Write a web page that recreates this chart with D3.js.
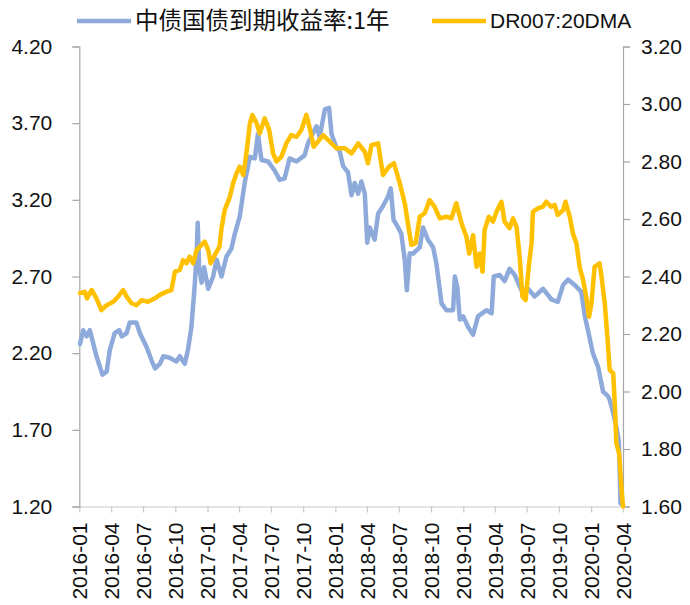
<!DOCTYPE html>
<html>
<head>
<meta charset="utf-8">
<script src="https://cdn.jsdelivr.net/npm/d3@7"></script>
<style>
  body { margin: 0; background: #fff; }
  svg { display: block; }
</style>
</head>
<body>
<div id="chart"></div>
<script>
var seriesNames = ["中债国债到期收益率:1年", "DR007:20DMA"];
var xTickLabels = ["2016-01", "2016-04", "2016-07", "2016-10", "2017-01", "2017-04", "2017-07", "2017-10",
  "2018-01", "2018-04", "2018-07", "2018-10", "2019-01", "2019-04", "2019-07", "2019-10", "2020-01", "2020-04"];
var leftTicks = [1.2, 1.7, 2.2, 2.7, 3.2, 3.7, 4.2];
var rightTicks = [1.6, 1.8, 2.0, 2.2, 2.4, 2.6, 2.8, 3.0, 3.2];

// 中债国债到期收益率:1年 (left axis)
var bondDates = ["2016-01-03","2016-01-12","2016-01-22","2016-01-31","2016-02-09","2016-02-19","2016-02-29","2016-03-07",
  "2016-03-19","2016-03-28","2016-04-11","2016-04-24","2016-05-01","2016-05-15","2016-05-24","2016-06-12","2016-06-22",
  "2016-07-11","2016-07-25","2016-08-04","2016-08-18","2016-08-28","2016-09-15","2016-10-04","2016-10-14","2016-10-28",
  "2016-11-06","2016-11-16","2016-11-25","2016-12-01","2016-12-04","2016-12-08","2016-12-15","2016-12-22","2017-01-03",
  "2017-01-17","2017-01-27","2017-02-10","2017-02-24","2017-03-10","2017-03-20","2017-04-03","2017-04-17","2017-05-02",
  "2017-05-16","2017-05-25","2017-06-04","2017-06-23","2017-07-12","2017-07-26","2017-08-09","2017-08-23","2017-09-12",
  "2017-10-05","2017-10-15","2017-11-08","2017-11-17","2017-12-02","2017-12-14","2017-12-21","2018-01-04","2018-01-13",
  "2018-01-23","2018-02-06","2018-02-16","2018-02-25","2018-03-07","2018-03-16","2018-03-26","2018-04-02","2018-04-09",
  "2018-04-23","2018-05-03","2018-05-17","2018-05-31","2018-06-08","2018-06-16","2018-06-29","2018-07-08","2018-07-18",
  "2018-07-24","2018-08-01","2018-08-11","2018-08-30","2018-09-08","2018-09-22","2018-10-07","2018-10-16","2018-10-31",
  "2018-11-14","2018-12-03","2018-12-08","2018-12-15","2018-12-22","2019-01-01","2019-01-15","2019-01-29","2019-02-12",
  "2019-03-08","2019-03-23","2019-03-29","2019-04-15","2019-04-29","2019-05-13","2019-05-28","2019-06-16","2019-07-05",
  "2019-07-24","2019-08-17","2019-09-10","2019-09-28","2019-10-13","2019-10-27","2019-11-15","2019-12-04","2019-12-14",
  "2019-12-23","2020-01-06","2020-01-21","2020-02-04","2020-02-18","2020-02-23","2020-03-04","2020-03-13","2020-03-20",
  "2020-03-25"];
var bondValues = [2.26,2.35,2.31,2.35,2.27,2.18,2.11,2.06,
  2.08,2.22,2.33,2.35,2.31,2.33,2.40,2.40,2.33,
  2.24,2.155,2.10,2.13,2.18,2.17,2.145,2.18,2.13,
  2.22,2.37,2.63,2.85,3.05,2.76,2.66,2.76,2.62,
  2.70,2.81,2.70,2.83,2.88,2.98,3.09,3.31,3.48,
  3.47,3.63,3.46,3.45,3.39,3.33,3.34,3.47,3.45,
  3.49,3.57,3.68,3.61,3.79,3.80,3.63,3.54,3.52,
  3.42,3.38,3.23,3.31,3.24,3.32,3.24,2.92,3.02,
  2.94,3.11,3.16,3.22,3.275,3.07,3.02,2.98,2.81,
  2.61,2.85,2.85,2.89,3.02,2.94,2.89,2.79,2.525,
  2.48,2.48,2.70,2.63,2.42,2.44,2.37,2.32,2.44,
  2.48,2.46,2.70,2.71,2.67,2.75,2.71,2.61,2.62,
  2.57,2.62,2.55,2.535,2.645,2.68,2.645,2.60,2.44,
  2.35,2.20,2.11,1.95,1.92,1.895,1.81,1.72,1.63,
  1.22];

// DR007:20DMA (right axis)
var drDates = ["2016-01-03","2016-01-17","2016-01-23","2016-02-05","2016-02-19","2016-03-04","2016-03-19","2016-04-07",
  "2016-04-21","2016-05-05","2016-05-15","2016-05-29","2016-06-12","2016-06-27","2016-07-15","2016-08-04","2016-08-18",
  "2016-09-06","2016-09-20","2016-09-30","2016-10-14","2016-10-23","2016-11-02","2016-11-11","2016-11-21","2016-12-01",
  "2016-12-15","2016-12-24","2017-01-03","2017-01-10","2017-01-22","2017-02-04","2017-02-10","2017-02-19","2017-03-06",
  "2017-03-15","2017-03-25","2017-04-03","2017-04-13","2017-04-22","2017-05-02","2017-05-09","2017-05-21","2017-05-30",
  "2017-06-13","2017-06-26","2017-07-07","2017-07-17","2017-07-31","2017-08-14","2017-08-28","2017-09-12","2017-09-26",
  "2017-10-10","2017-10-20","2017-10-31","2017-11-12","2017-11-27","2017-12-11","2018-01-04","2018-01-28","2018-02-16",
  "2018-03-07","2018-03-26","2018-04-04","2018-04-14","2018-05-03","2018-05-17","2018-06-03","2018-06-17","2018-07-04",
  "2018-07-18","2018-07-27","2018-08-06","2018-08-18","2018-08-30","2018-09-13","2018-09-27","2018-10-11","2018-10-26",
  "2018-11-14","2018-11-28","2018-12-12","2018-12-27","2019-01-10","2019-01-18","2019-01-29","2019-02-08","2019-02-17",
  "2019-02-25","2019-03-03","2019-03-15","2019-03-27","2019-04-06","2019-04-20","2019-04-29","2019-05-13","2019-05-23",
  "2019-06-02","2019-06-11","2019-06-19","2019-06-28","2019-07-08","2019-07-15","2019-07-19","2019-08-02","2019-08-16",
  "2019-08-26","2019-09-09","2019-09-19","2019-09-28","2019-10-13","2019-10-20","2019-11-01","2019-11-10","2019-11-20",
  "2019-11-29","2019-12-09","2019-12-18","2019-12-26","2020-01-02","2020-01-11","2020-01-25","2020-01-30","2020-02-09",
  "2020-02-17","2020-02-23","2020-03-04","2020-03-09","2020-03-13","2020-03-21","2020-03-28","2020-04-01"];
var drValues = [2.342,2.347,2.324,2.353,2.324,2.283,2.30,2.312,
  2.33,2.353,2.33,2.307,2.30,2.318,2.312,2.324,2.336,
  2.347,2.353,2.417,2.423,2.457,2.446,2.469,2.446,2.492,
  2.51,2.521,2.492,2.446,2.475,2.504,2.568,2.631,2.678,
  2.724,2.759,2.782,2.753,2.828,2.933,2.962,2.933,2.898,
  2.95,2.91,2.828,2.80,2.817,2.863,2.892,2.886,2.91,
  2.962,2.915,2.851,2.869,2.892,2.875,2.846,2.846,2.828,
  2.863,2.834,2.794,2.857,2.863,2.753,2.782,2.794,2.724,
  2.655,2.585,2.51,2.516,2.608,2.62,2.666,2.643,2.602,
  2.608,2.602,2.655,2.585,2.538,2.48,2.544,2.434,2.48,
  2.417,2.562,2.608,2.591,2.625,2.66,2.591,2.568,2.602,
  2.573,2.469,2.33,2.318,2.446,2.516,2.625,2.637,2.643,
  2.66,2.643,2.649,2.614,2.631,2.66,2.608,2.55,2.516,
  2.434,2.388,2.33,2.26,2.307,2.434,2.446,2.405,2.307,
  2.18,2.075,2.063,1.947,1.82,1.785,1.657,1.60];

var W = 690, H = 605;
var margin = {top: 46.5, right: 67, bottom: 98.5, left: 79.3};
var width = W - margin.left - margin.right;
var height = H - margin.top - margin.bottom;
var parseDay = d3.timeParse("%Y-%m-%d");
var parseMonth = d3.timeParse("%Y-%m");
var latinFont = "'Liberation Sans', Arial, sans-serif";
var cjkFont = "'Noto Sans CJK SC', 'Noto Sans', sans-serif";

var svg = d3.select("#chart").append("svg")
    .attr("width", W)
    .attr("height", H)
  .append("g")
    .attr("transform", "translate(" + margin.left + "," + margin.top + ")");

var x = d3.scaleTime()
    .domain([parseMonth(xTickLabels[0]), parseMonth(xTickLabels[xTickLabels.length - 1])])
    .range([0, width]);
var yLeft = d3.scaleLinear().domain([1.2, 4.2]).range([height, 0]);
var yRight = d3.scaleLinear().domain([1.6, 3.2]).range([height, 0]);

// axes
var gx = svg.append("g")
    .attr("transform", "translate(0," + height + ")")
    .call(d3.axisBottom(x)
        .tickValues(xTickLabels.map(parseMonth))
        .tickFormat(d3.timeFormat("%Y-%m"))
        .tickSize(6)
        .tickSizeOuter(0));
gx.selectAll("path, line").attr("stroke", "#c8c8c8").attr("stroke-width", 1.2);
gx.selectAll("text")
    .attr("transform", "rotate(-90)")
    .attr("x", -16)
    .attr("y", 0)
    .attr("dy", "0.35em")
    .style("text-anchor", "end")
    .style("font-family", latinFont)
    .style("font-size", "21px")
    .attr("fill", "#111");

var gl = svg.append("g")
    .call(d3.axisLeft(yLeft).tickValues(leftTicks).tickFormat(d3.format(".2f")).tickSize(7).tickPadding(20));
var gr = svg.append("g")
    .attr("transform", "translate(" + width + ",0)")
    .call(d3.axisRight(yRight).tickValues(rightTicks).tickFormat(d3.format(".2f")).tickSize(7).tickPadding(11));
[gl, gr].forEach(function(g) {
    g.selectAll("path, line").attr("stroke", "#a6a6a6").attr("stroke-width", 1.2);
    g.selectAll("text")
        .style("font-family", latinFont)
        .style("font-size", "21px")
        .attr("fill", "#111");
});

// lines
var bond = bondDates.map(function(d, i) { return {date: parseDay(d), value: bondValues[i]}; });
var dr = drDates.map(function(d, i) { return {date: parseDay(d), value: drValues[i]}; });

svg.append("path")
    .datum(bond)
    .attr("fill", "none")
    .attr("stroke", "#8eaadb")
    .attr("stroke-width", 4.5)
    .attr("stroke-linejoin", "round")
    .attr("stroke-linecap", "round")
    .attr("d", d3.line()
        .x(function(d) { return x(d.date); })
        .y(function(d) { return yLeft(d.value); }));

svg.append("path")
    .datum(dr)
    .attr("fill", "none")
    .attr("stroke", "#ffc000")
    .attr("stroke-width", 4.5)
    .attr("stroke-linejoin", "round")
    .attr("stroke-linecap", "round")
    .attr("d", d3.line()
        .x(function(d) { return x(d.date); })
        .y(function(d) { return yRight(d.value); }));

// legend
var legend = d3.select("svg").append("g");
var legendItems = [
    {name: seriesNames[0], color: "#8eaadb", x: 77, font: cjkFont, size: "23.5px"},
    {name: seriesNames[1], color: "#ffc000", x: 432, font: latinFont, size: "21px"}
];
legendItems.forEach(function(item) {
    legend.append("line")
        .attr("x1", item.x).attr("x2", item.x + 54)
        .attr("y1", 21).attr("y2", 21)
        .attr("stroke", item.color)
        .attr("stroke-width", 4.5);
    legend.append("text")
        .attr("x", item.x + 58)
        .attr("y", 21)
        .attr("dy", "0.35em")
        .style("font-family", item.font)
        .style("font-size", item.size)
        .attr("fill", "#111")
        .text(item.name);
});
</script>
</body>
</html>
